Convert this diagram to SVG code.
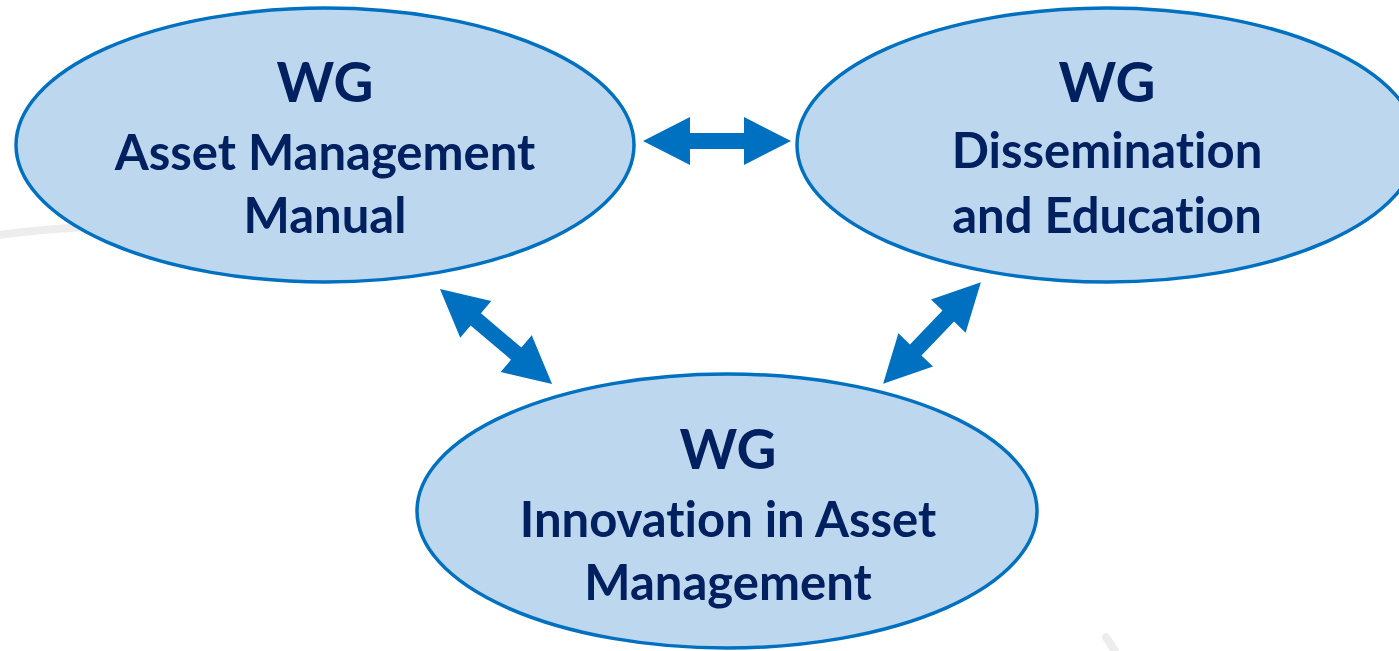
<svg xmlns="http://www.w3.org/2000/svg" width="1399" height="651" viewBox="0 0 1399 651">
  <style>
    .node { fill: #BDD7EE; stroke: #0070C0; stroke-width: 3.5; }
    .t { font-family: Lato, "Open Sans", "Liberation Sans", sans-serif; font-weight: bold; fill: #002060; text-anchor: middle; font-variant-ligatures: none; font-feature-settings: "liga" 0, "clig" 0, "dlig" 0; }
    .wg { font-size: 55px; }
    .lbl { font-size: 49px; }
    .arr { fill: #0070C0; }
    .bg { fill: none; stroke: #EDEDED; stroke-width: 8; stroke-linecap: round; }
  </style>
  <rect width="1399" height="651" fill="#FFFFFF"/>
  <g id="background">
    <path class="bg" d="M -10 236 Q 50 228 110 226"/>
    <path class="bg" d="M 1106 637 L 1115 651"/>
  </g>
  <g id="connectors">
    <path class="arr" transform="translate(717 141)" d="M -74 0 L -27 -24 L -27 -8 L 27 -8 L 27 -24 L 74 0 L 27 24 L 27 8 L -27 8 L -27 24 Z"/>
    <path class="arr" transform="translate(496 336.5) rotate(40.3)" d="M -73.5 0 L -26.5 -24 L -26.5 -8 L 26.5 -8 L 26.5 -24 L 73.5 0 L 26.5 24 L 26.5 8 L -26.5 8 L -26.5 24 Z"/>
    <path class="arr" transform="translate(932 333) rotate(-46.1)" d="M -70.5 0 L -23.5 -24 L -23.5 -8 L 23.5 -8 L 23.5 -24 L 70.5 0 L 23.5 24 L 23.5 8 L -23.5 8 L -23.5 24 Z"/>
  </g>
  <g id="node-manual">
    <ellipse class="node" cx="325" cy="145" rx="309" ry="137"/>
    <text class="t wg" x="325" y="102">WG</text>
    <text class="t lbl" x="325" y="170">Asset Management</text>
    <text class="t lbl" x="325" y="233">Manual</text>
  </g>
  <g id="node-dissemination">
    <ellipse class="node" cx="1107" cy="145" rx="310" ry="137"/>
    <text class="t wg" x="1107" y="102">WG</text>
    <text class="t lbl" x="1107" y="168">Dissemination</text>
    <text class="t lbl" x="1107" y="233">and Education</text>
  </g>
  <g id="node-innovation">
    <ellipse class="node" cx="727" cy="511" rx="310" ry="137"/>
    <text class="t wg" x="728" y="469">WG</text>
    <text class="t lbl" x="728" y="537">Innovation in Asset</text>
    <text class="t lbl" x="728" y="600">Management</text>
  </g>
</svg>
